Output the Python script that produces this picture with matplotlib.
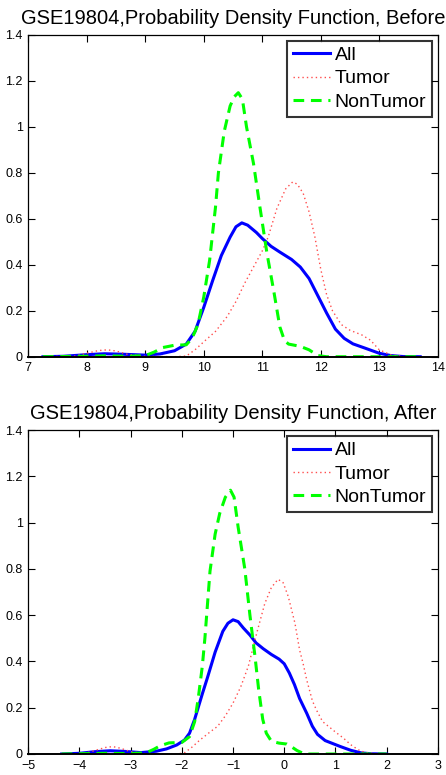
import matplotlib
matplotlib.use("Agg")
import matplotlib.pyplot as plt

plt.rcParams['font.family'] = ['Liberation Sans', 'DejaVu Sans']

# ---- Before (top panel) ----
before_all_x = [7.25, 7.6, 8.0, 8.3, 8.6, 9.0, 9.25, 9.5, 9.7, 9.85, 10.0, 10.15, 10.3, 10.45,
                10.55, 10.65, 10.75, 10.9, 11.0, 11.15, 11.3, 11.5, 11.65, 11.8, 11.95, 12.1,
                12.25, 12.4, 12.55, 12.75, 13.0, 13.2, 13.4, 13.7]
before_all_y = [0, 0.002, 0.009, 0.013, 0.011, 0.007, 0.012, 0.026, 0.055, 0.11, 0.215, 0.33,
                0.44, 0.52, 0.565, 0.582, 0.572, 0.54, 0.514, 0.48, 0.455, 0.423, 0.39, 0.34,
                0.265, 0.19, 0.12, 0.08, 0.056, 0.038, 0.015, 0.005, 0.001, 0]

before_tumor_x = [7.25, 7.8, 8.0, 8.2, 8.35, 8.5, 8.7, 9.0, 9.5, 9.7, 9.85, 10.0, 10.2, 10.4,
                  10.55, 10.7, 10.85, 11.0, 11.1, 11.25, 11.4, 11.52, 11.6, 11.7, 11.8, 11.9,
                  12.0, 12.1, 12.2, 12.35, 12.5, 12.7, 12.85, 13.0, 13.2, 13.4, 13.7]
before_tumor_y = [0, 0.003, 0.015, 0.027, 0.03, 0.025, 0.01, 0.002, 0, 0.003, 0.03, 0.065,
                  0.11, 0.175, 0.24, 0.32, 0.39, 0.46, 0.52, 0.645, 0.73, 0.76, 0.75, 0.71,
                  0.63, 0.52, 0.38, 0.27, 0.2, 0.14, 0.115, 0.095, 0.072, 0.03, 0.008, 0.001, 0]

before_normal_x = [7.25, 8.0, 8.3, 8.7, 9.0, 9.15, 9.3, 9.5, 9.7, 9.8, 9.9, 10.0, 10.1, 10.2,
                   10.25, 10.35, 10.45, 10.52, 10.59, 10.66, 10.73, 10.85, 10.96, 11.08, 11.2,
                   11.3, 11.38, 11.45, 11.65, 11.8, 11.95, 12.1, 13.7]
before_normal_y = [0, 0.002, 0.004, 0.002, 0.005, 0.02, 0.04, 0.05, 0.052, 0.08, 0.14, 0.26,
                   0.42, 0.65, 0.8, 0.98, 1.09, 1.13, 1.148, 1.12, 1.0, 0.84, 0.65, 0.45, 0.28,
                   0.13, 0.07, 0.055, 0.045, 0.03, 0.005, 0, 0]

# ---- After (bottom panel) ----
after_all_x = [-4.35, -4.0, -3.7, -3.4, -3.1, -2.8, -2.5, -2.3, -2.1, -1.95, -1.85, -1.75,
               -1.6, -1.5, -1.35, -1.2, -1.1, -1.0, -0.9, -0.8, -0.67, -0.55, -0.41, -0.25,
               -0.1, 0.0, 0.1, 0.2, 0.3, 0.44, 0.55, 0.65, 0.8, 0.95, 1.1, 1.3, 1.5, 1.7, 2.0]
after_all_y = [0, 0.003, 0.01, 0.014, 0.011, 0.006, 0.012, 0.022, 0.039, 0.06, 0.09, 0.15,
               0.26, 0.33, 0.44, 0.53, 0.565, 0.58, 0.572, 0.545, 0.514, 0.48, 0.455, 0.43,
               0.41, 0.39, 0.35, 0.3, 0.24, 0.176, 0.12, 0.085, 0.058, 0.045, 0.032, 0.016,
               0.005, 0.001, 0]

after_tumor_x = [-4.35, -3.9, -3.7, -3.5, -3.35, -3.2, -3.0, -2.7, -2.1, -1.95, -1.8, -1.65,
                 -1.45, -1.3, -1.15, -1.0, -0.85, -0.7, -0.54, -0.38, -0.25, -0.12, -0.02,
                 0.08, 0.21, 0.3, 0.37, 0.44, 0.55, 0.63, 0.75, 0.89, 1.0, 1.15, 1.3, 1.45,
                 1.6, 1.8, 2.0]
after_tumor_y = [0, 0.002, 0.015, 0.028, 0.032, 0.025, 0.01, 0.001, 0, 0.005, 0.03, 0.06,
                 0.095, 0.12, 0.165, 0.22, 0.29, 0.38, 0.52, 0.65, 0.72, 0.755, 0.74, 0.68,
                 0.565, 0.45, 0.39, 0.32, 0.23, 0.19, 0.14, 0.115, 0.095, 0.07, 0.04, 0.018,
                 0.005, 0.001, 0]

after_normal_x = [-4.35, -3.5, -3.0, -2.7, -2.55, -2.43, -2.25, -2.0, -1.85, -1.75, -1.68,
                  -1.6, -1.55, -1.45, -1.35, -1.26, -1.15, -1.05, -0.98, -0.9, -0.77, -0.67,
                  -0.57, -0.5, -0.42, -0.35, -0.25, -0.1, 0.05, 0.15, 0.25, 0.4, 2.0]
after_normal_y = [0, 0.003, 0.002, 0.005, 0.02, 0.035, 0.048, 0.05, 0.075, 0.14, 0.24, 0.38,
                  0.5, 0.79, 0.95, 1.04, 1.11, 1.14, 1.11, 0.98, 0.8, 0.6, 0.42, 0.28, 0.15,
                  0.09, 0.055, 0.047, 0.043, 0.03, 0.015, 0, 0]

labels = ['All', 'Tumor', 'NonTumor']
yticks = [0, 0.2, 0.4, 0.6, 0.8, 1.0, 1.2, 1.4]
ytick_labels = ['0', '0.2', '0.4', '0.6', '0.8', '1', '1.2', '1.4']

fig = plt.figure(figsize=(4.46, 7.75), dpi=100)
ax1 = fig.add_axes([0.0635, 0.5397, 0.918, 0.4155])
ax2 = fig.add_axes([0.0635, 0.0271, 0.918, 0.418])


def draw(ax, xa, ya, xt, yt, xn, yn, xlim, title):
    ax.plot(xa, ya, color=(0, 0, 1), lw=2.2, label=labels[0])
    ax.plot(xt, yt, color=(1, 0.3, 0.3), lw=1.0, ls=(0, (1, 2.2)), label=labels[1])
    ax.plot(xn, yn, color=(0, 1, 0), lw=2.2, ls=(0, (3.5, 2.2)), label=labels[2])
    ax.set_xlim(*xlim)
    ax.set_ylim(0, 1.4)
    xt_vals = list(range(xlim[0], xlim[1] + 1))
    ax.set_xticks(xt_vals)
    ax.set_xticklabels([str(v).replace('-', '\u2212') for v in xt_vals])
    ax.set_yticks(yticks)
    ax.set_yticklabels(ytick_labels)
    ax.tick_params(direction='in', length=5, width=0.8, labelsize=9,
                   top=True, right=True, pad=4)
    for s in ax.spines.values():
        s.set_linewidth(0.9)
    ax.spines['bottom'].set_linewidth(1.4)
    ax.set_title(title, fontsize=14.5, pad=8)
    leg = ax.legend(loc='upper right', fontsize=14, frameon=True, fancybox=False,
                    handlelength=1.9, handletextpad=0.25, borderpad=0.3,
                    labelspacing=0.3, borderaxespad=0.3)
    leg.get_frame().set_edgecolor('black')
    leg.get_frame().set_linewidth(1.5)


draw(ax1, before_all_x, before_all_y, before_tumor_x, before_tumor_y,
     before_normal_x, before_normal_y, (7, 14),
     'GSE19804,Probability Density Function, Before')
draw(ax2, after_all_x, after_all_y, after_tumor_x, after_tumor_y,
     after_normal_x, after_normal_y, (-5, 3),
     'GSE19804,Probability Density Function, After')

fig.savefig('out.png', dpi=100)
